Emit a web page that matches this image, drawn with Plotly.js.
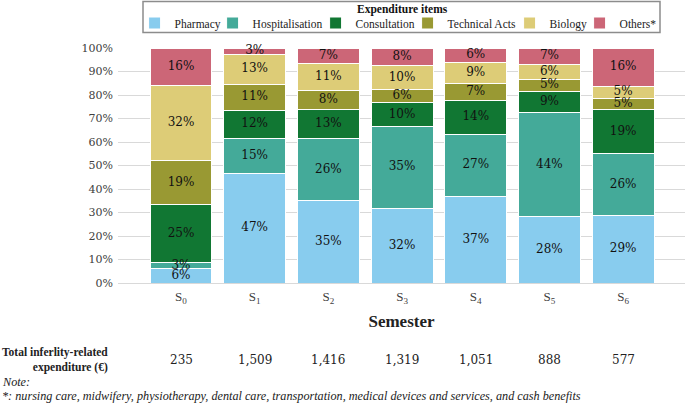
<!DOCTYPE html>
<html><head><meta charset="utf-8">
<script src="https://cdn.plot.ly/plotly-3.0.1.min.js"></script>
<style>html,body{margin:0;padding:0;background:#fff}#chart{width:685px;height:404px}</style>
</head><body><div id="chart"></div>
<script>
const semesters = ['S<sub>0</sub>','S<sub>1</sub>','S<sub>2</sub>','S<sub>3</sub>','S<sub>4</sub>','S<sub>5</sub>','S<sub>6</sub>'];
const seriesNames = ['Pharmacy','Hospitalisation','Consultation','Technical Acts','Biology','Others*'];
const pharmacy        = [6.0, 46.6, 35.3, 31.9, 36.7, 28.2, 28.7];
const hospitalisation = [2.6, 15.0, 26.0, 34.9, 26.7, 44.4, 26.3];
const consultation    = [24.6, 12.0, 12.6, 9.8, 14.2, 9.1, 18.8];
const technicalActs   = [19.0, 11.0, 8.2, 5.8, 7.2, 5.1, 4.8];
const biology         = [31.8, 12.8, 11.2, 10.0, 9.0, 6.3, 5.2];
const others          = [16.0, 2.6, 6.7, 7.6, 6.2, 6.9, 16.2];
const totals = [235, 1509, 1416, 1319, 1051, 888, 577];

const colors = ['#88CCEE','#44AA99','#117733','#999933','#DDCC77','#CC6677'];
const legendWidths = [33, 58, 47, 57, 25, 36];
const allSeries = [pharmacy, hospitalisation, consultation, technicalActs, biology, others];

const traces = allSeries.map((vals, i) => ({
  type: 'bar',
  name: seriesNames[i],
  x: semesters,
  y: vals,
  marker: {color: colors[i], line: {color: '#ffffff', width: 1}},
  legendwidth: legendWidths[i],
  hoverinfo: 'skip'
}));

// segment labels, placed at the middle of each stacked segment
const base = semesters.map(() => 0);
allSeries.forEach((vals) => {
  const mids = vals.map((v, j) => base[j] + v / 2);
  vals.forEach((v, j) => { base[j] += v; });
  traces.push({
    type: 'scatter', mode: 'text',
    x: semesters, y: mids,
    text: vals.map(v => Math.round(v) + '%'),
    textposition: 'middle center',
    textfont: {family: 'DejaVu Serif', size: 12, color: '#111'},
    showlegend: false, hoverinfo: 'skip', cliponaxis: false
  });
});

const plotLeft = 118, plotW = 685 - 118, plotH = 283 - 48;
const px2x = p => (p - plotLeft) / plotW;
const py2y = p => (283 - p) / plotH;

const annotations = [];
totals.forEach((t, i) => {
  annotations.push({
    x: semesters[i], xref: 'x', y: py2y(360), yref: 'paper',
    text: t.toLocaleString('en-US'), showarrow: false,
    font: {family: 'DejaVu Serif', size: 12, color: '#222'},
    xanchor: 'center', yanchor: 'middle'
  });
});
annotations.push({
  x: px2x(110), xref: 'paper', y: py2y(360), yref: 'paper',
  text: '<b>Total inferlity-related</b><br><b>expenditure (€)</b>',
  showarrow: false, align: 'right', xanchor: 'right', yanchor: 'middle',
  font: {family: 'Liberation Serif', size: 11.5, color: '#222'}
});
annotations.push({
  x: px2x(0), xref: 'paper', y: py2y(382), yref: 'paper',
  text: '<i>Note:</i>', showarrow: false, xanchor: 'left', yanchor: 'middle',
  font: {family: 'Liberation Serif', size: 12.2, color: '#222'}
});
annotations.push({
  x: px2x(0), xref: 'paper', y: py2y(396), yref: 'paper',
  text: '<i>*: nursing care, midwifery, physiotherapy, dental care, transportation, medical devices and services, and cash benefits</i>',
  showarrow: false, xanchor: 'left', yanchor: 'middle',
  font: {family: 'Liberation Serif', size: 12.2, color: '#222'}
});
// legend heading
annotations.push({
  x: px2x(402), xref: 'paper', y: py2y(9.5), yref: 'paper',
  text: '<b>Expenditure items</b>', showarrow: false, xanchor: 'center', yanchor: 'middle',
  font: {family: 'Liberation Serif', size: 11.5, color: '#111'}
});

const layout = {
  width: 685, height: 404,
  margin: {l: 118, r: 0, t: 48, b: 121},
  barmode: 'stack',
  bargap: 0.16,
  paper_bgcolor: '#fff', plot_bgcolor: '#fff',
  font: {family: 'Liberation Serif', color: '#404040'},
  xaxis: {
    type: 'category',
    range: [-0.855, 6.84],
    showgrid: false, zeroline: false, showline: false,
    tickfont: {family: 'Liberation Serif', size: 13, color: '#404040'},
    ticklabelstandoff: 4,
    title: {text: '<b>Semester</b>', font: {family: 'Liberation Serif', size: 17, color: '#222'}, standoff: 10},
    automargin: false
  },
  yaxis: {
    range: [0, 100], dtick: 10, ticksuffix: '%',
    gridcolor: '#d9d9d9', gridwidth: 1,
    zeroline: true, zerolinecolor: '#d9d9d9', zerolinewidth: 1,
    showline: false,
    ticklabelstandoff: 4,
    tickfont: {family: 'DejaVu Serif', size: 11, color: '#404040'},
    automargin: false
  },
  showlegend: true,
  legend: {
    orientation: 'h', x: px2x(397.6), xanchor: 'center', y: py2y(23), yanchor: 'middle',
    traceorder: 'normal',
    borderwidth: 0, bgcolor: 'rgba(0,0,0,0)',
    font: {family: 'Liberation Serif', size: 11.5, color: '#222'},
    itemwidth: 30
  },
  shapes: [{
    type: 'rect', xref: 'paper', yref: 'paper',
    x0: px2x(143), x1: px2x(660), y0: py2y(1.5), y1: py2y(32.5),
    line: {color: '#8c8c8c', width: 1.5}, fillcolor: 'rgba(0,0,0,0)', layer: 'above'
  }],
  annotations: annotations
};

Plotly.newPlot('chart', traces, layout, {displayModeBar: false, staticPlot: true});
</script>
</body></html>
